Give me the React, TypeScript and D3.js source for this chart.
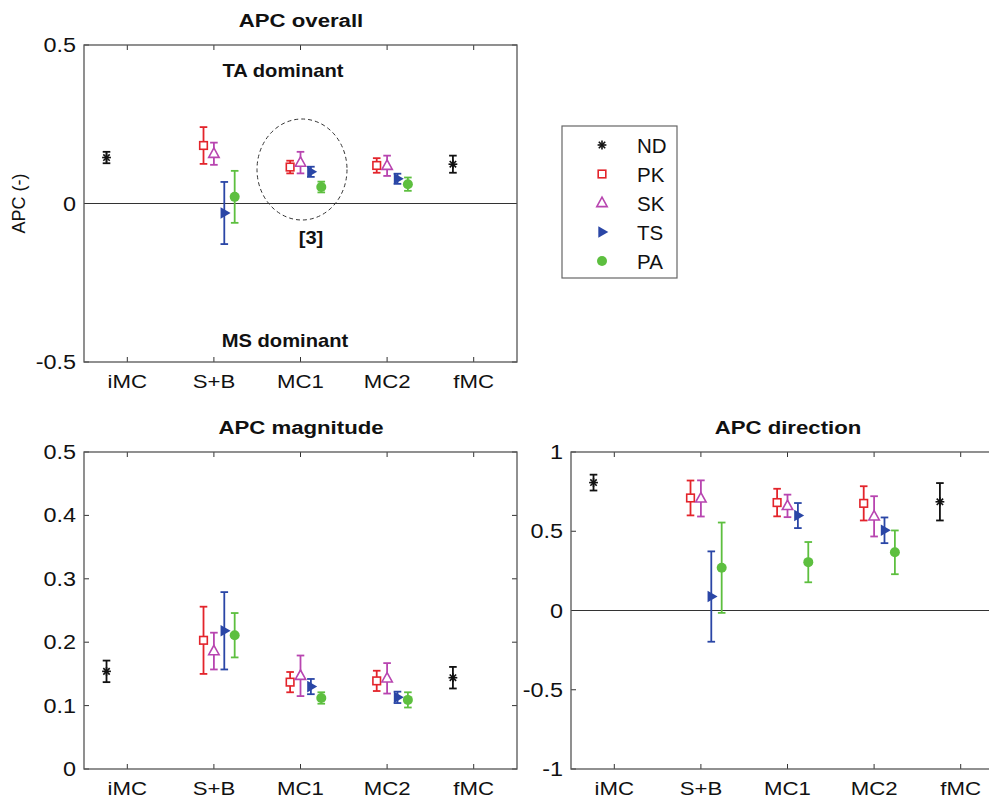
import React from "react";
import * as d3 from "d3";

const categories = ["iMC", "S+B", "MC1", "MC2", "fMC"];
const seriesNames = ["ND", "PK", "SK", "TS", "PA"];
const seriesColors = ["#111111", "#e3242b", "#b845b0", "#2a46a6", "#5dbf3f"];
const seriesOffsets = [-0.24, -0.12, 0, 0.12, 0.24];

type V = number | null;

// APC overall (mean, error half-width), rows = series, cols = categories
const overallMean: V[][] = [
  [0.145, null, null, null, 0.124],
  [null, 0.183, 0.115, 0.12, null],
  [null, 0.157, 0.129, 0.119, null],
  [null, -0.03, 0.1, 0.078, null],
  [null, 0.021, 0.052, 0.061, null],
];
const overallErr: V[][] = [
  [0.018, null, null, null, 0.027],
  [null, 0.058, 0.02, 0.023, null],
  [null, 0.035, 0.034, 0.032, null],
  [null, 0.098, 0.016, 0.016, null],
  [null, 0.082, 0.017, 0.021, null],
];

const magnitudeMean: V[][] = [
  [0.154, null, null, null, 0.144],
  [null, 0.203, 0.137, 0.139, null],
  [null, 0.186, 0.147, 0.143, null],
  [null, 0.218, 0.13, 0.113, null],
  [null, 0.211, 0.112, 0.109, null],
];
const magnitudeErr: V[][] = [
  [0.017, null, null, null, 0.017],
  [null, 0.053, 0.016, 0.016, null],
  [null, 0.029, 0.032, 0.024, null],
  [null, 0.061, 0.012, 0.009, null],
  [null, 0.035, 0.009, 0.012, null],
];

const directionMean: V[][] = [
  [0.807, null, null, null, 0.686],
  [null, 0.71, 0.681, 0.676, null],
  [null, 0.707, 0.66, 0.594, null],
  [null, 0.088, 0.599, 0.506, null],
  [null, 0.27, 0.305, 0.367, null],
];
const directionErr: V[][] = [
  [0.05, null, null, null, 0.118],
  [null, 0.11, 0.087, 0.108, null],
  [null, 0.114, 0.071, 0.127, null],
  [null, 0.285, 0.079, 0.081, null],
  [null, 0.285, 0.127, 0.138, null],
];

const overallTicks = [-0.5, 0, 0.5];
const magnitudeTicks = [0, 0.1, 0.2, 0.3, 0.4, 0.5];
const directionTicks = [-1, -0.5, 0, 0.5, 1];

const FONT = "'Liberation Sans', Arial, Helvetica, sans-serif";
const SX = 1.2;

function fmt(v: number) {
  if (v === 0) return "0";
  const s = d3.format("~g")(v);
  return s.replace("−", "-");
}

function Marker({ kind, x, y, color }: { kind: number; x: number; y: number; color: string }) {
  if (kind === 0) {
    const a = 4.4, b = 3.2;
    return (
      <g stroke={color} strokeWidth={1.6}>
        <line x1={x - a} y1={y} x2={x + a} y2={y} />
        <line x1={x} y1={y - a} x2={x} y2={y + a} />
        <line x1={x - b} y1={y - b} x2={x + b} y2={y + b} />
        <line x1={x - b} y1={y + b} x2={x + b} y2={y - b} />
      </g>
    );
  }
  if (kind === 1) {
    return <rect x={x - 3.8} y={y - 3.8} width={7.6} height={7.6} fill="white" stroke={color} strokeWidth={1.6} />;
  }
  if (kind === 2) {
    return (
      <polygon
        points={`${x},${y - 5.8} ${x + 5.2},${y + 3.6} ${x - 5.2},${y + 3.6}`}
        fill="white"
        stroke={color}
        strokeWidth={1.6}
      />
    );
  }
  if (kind === 3) {
    return <polygon points={`${x + 6.3},${y} ${x - 3.7},${y - 5.8} ${x - 3.7},${y + 5.8}`} fill={color} />;
  }
  return <circle cx={x} cy={y} r={5} fill={color} />;
}

function Panel({
  left, top, width, height, domain, ticks, mean, err, zeroLine, title,
}: {
  left: number; top: number; width: number; height: number; domain: [number, number];
  ticks: number[]; mean: V[][]; err: V[][]; zeroLine: boolean; title: string;
}) {
  const x = d3.scaleLinear().domain([0.5, categories.length + 0.5]).range([left, left + width]);
  const y = d3.scaleLinear().domain(domain).range([top + height, top]);
  const right = left + width;
  const bottom = top + height;
  const tl = 5;
  const cap = 3.8;
  return (
    <g>
      <text
        transform={`translate(${left + width / 2 + 0.5},${top - 18}) scale(${SX},1)`}
        textAnchor="middle"
        fontFamily={FONT}
        fontWeight="bold"
        fontSize={18.5}
        fill="#111"
      >
        {title}
      </text>
      {zeroLine && <line x1={left} x2={right} y1={y(0)} y2={y(0)} stroke="#333" strokeWidth={1} />}
      {ticks.map((t) => (
        <g key={"yt" + t}>
          <line x1={left} x2={left + tl} y1={y(t)} y2={y(t)} stroke="#333" strokeWidth={1} />
          <line x1={right} x2={right - tl} y1={y(t)} y2={y(t)} stroke="#333" strokeWidth={1} />
          <text
            transform={`translate(${left - 8},${y(t) + 7}) scale(${SX},1)`}
            textAnchor="end"
            fontFamily={FONT}
            fontSize={19.5}
            fill="#111"
          >
            {fmt(t)}
          </text>
        </g>
      ))}
      {categories.map((c, i) => (
        <g key={"xt" + c}>
          <line x1={x(i + 1)} x2={x(i + 1)} y1={bottom} y2={bottom - tl} stroke="#333" strokeWidth={1} />
          <line x1={x(i + 1)} x2={x(i + 1)} y1={top} y2={top + tl} stroke="#333" strokeWidth={1} />
          <text
            transform={`translate(${x(i + 1)},${bottom + 25.5}) scale(${SX},1)`}
            textAnchor="middle"
            fontFamily={FONT}
            fontSize={18.5}
            fill="#111"
          >
            {c}
          </text>
        </g>
      ))}
      <rect x={left} y={top} width={width} height={height} fill="none" stroke="#555" strokeWidth={1.3} />
      {mean.map((row, s) =>
        row.map((m, ci) => {
          if (m === null) return null;
          const e = err[s][ci] ?? 0;
          const cx = x(ci + 1 + seriesOffsets[s]);
          const color = seriesColors[s];
          return (
            <g key={`d${s}-${ci}`}>
              <g stroke={color} strokeWidth={1.8}>
                <line x1={cx} x2={cx} y1={y(m - e)} y2={y(m + e)} />
                <line x1={cx - cap} x2={cx + cap} y1={y(m - e)} y2={y(m - e)} />
                <line x1={cx - cap} x2={cx + cap} y1={y(m + e)} y2={y(m + e)} />
              </g>
              <Marker kind={s} x={cx} y={y(m)} color={color} />
            </g>
          );
        })
      )}
    </g>
  );
}

export default function App() {
  const legendX = 562, legendY = 126, legendW = 115, legendH = 152;
  return (
    <svg
      width={989}
      height={802}
      viewBox="0 0 989 802"
      style={{ position: "absolute", left: 0, top: 0, background: "white" }}
    >
      <rect x={0} y={0} width={989} height={802} fill="white" />
      <Panel
        left={84} top={45} width={433} height={317}
        domain={[-0.5, 0.5]} ticks={overallTicks}
        mean={overallMean} err={overallErr} zeroLine={true} title="APC overall"
      />
      <Panel
        left={84} top={452} width={433} height={317}
        domain={[0, 0.5]} ticks={magnitudeTicks}
        mean={magnitudeMean} err={magnitudeErr} zeroLine={false} title="APC magnitude"
      />
      <Panel
        left={571} top={452} width={433} height={317}
        domain={[-1, 1]} ticks={directionTicks}
        mean={directionMean} err={directionErr} zeroLine={true} title="APC direction"
      />
      <text transform="translate(283,77) scale(1.12,1)" textAnchor="middle" fontFamily={FONT} fontWeight="bold" fontSize={18} fill="#111">
        TA dominant
      </text>
      <text transform="translate(285,347) scale(1.12,1)" textAnchor="middle" fontFamily={FONT} fontWeight="bold" fontSize={18} fill="#111">
        MS dominant
      </text>
      <text transform="translate(311,244) scale(1.12,1)" textAnchor="middle" fontFamily={FONT} fontWeight="bold" fontSize={18} fill="#111">
        [3]
      </text>
      <ellipse cx={302} cy={169.5} rx={45} ry={50.5} fill="none" stroke="#333" strokeWidth={1} strokeDasharray="4 3" />
      <text
        transform="translate(25,203.5) rotate(-90)"
        textAnchor="middle"
        fontFamily={FONT}
        fontSize={18}
        fill="#111"
      >
        APC (-)
      </text>
      <rect x={legendX} y={legendY} width={legendW} height={legendH} fill="white" stroke="#666" strokeWidth={1.2} />
      {seriesNames.map((n, i) => {
        const cy = 145 + i * 29;
        return (
          <g key={n}>
            <Marker kind={i} x={602} y={cy} color={seriesColors[i]} />
            <text x={637} y={cy + 7.5} fontFamily={FONT} fontSize={20.5} fill="#111">
              {n}
            </text>
          </g>
        );
      })}
    </svg>
  );
}
